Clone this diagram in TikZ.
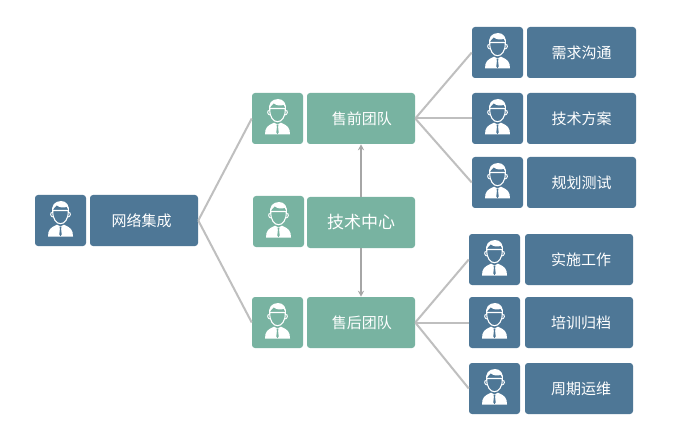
\documentclass[tikz,border=0pt]{standalone}
\usepackage{fontspec}
\setmainfont{Noto Sans CJK SC}
\usetikzlibrary{arrows.meta}
\definecolor{teamblue}{HTML}{4E7796}
\definecolor{teamgreen}{HTML}{78B3A1}
\definecolor{linkgrey}{HTML}{BFBFBF}
\definecolor{arrowgrey}{HTML}{A6A6A6}
% card caption with optional sideways nudge
\newcommand\captiontext[2][0pt]{\hspace*{#1}\raisebox{-1.4pt}{#2}}
\tikzset{
  card/.style={rounded corners=2.25pt,inner sep=0pt,text=white,font=\fontsize{11.25pt}{13pt}\selectfont},
  iconcard/.style={card,minimum width=38.25pt,minimum height=38.25pt},
  labelcard/.style={card,minimum width=81pt,minimum height=38.25pt},
  widecard/.style={labelcard,minimum width=81.75pt},
  blue/.style={fill=teamblue},
  green/.style={fill=teamgreen},
  link/.style={draw=linkgrey,line width=1.5pt},
  pointer/.style={draw=arrowgrey,line width=1.3pt,-{Stealth[length=4.5pt,width=4.5pt]}},
  pics/person/.style={code={
    % shoulders and shirt
    \fill[white] (-12.5,16) .. controls (-12.5,9) and (-10,7) .. (-3.5,4.2)
      -- (0,6) -- (3.5,4.2) .. controls (10,7) and (12.5,9) .. (12.5,16) -- cycle;
    % tie
    \fill[#1] (-1,6.2) -- (1,6.2) -- (0.6,8.5) -- (1.2,14) -- (0,15.6) -- (-1.2,14) -- (-0.6,8.5) -- cycle;
    % ears
    \draw[white,line width=0.7pt] (-8.2,-8) .. controls (-10.8,-8.5) and (-10.2,-3.5) .. (-7.4,-3.5);
    \draw[white,line width=0.7pt] (8.2,-8) .. controls (10.8,-8.5) and (10.2,-3.5) .. (7.4,-3.5);
    % face outline
    \draw[white,line width=0.8pt,fill=#1] (-7.8,-10) .. controls (-8,-1) and (-4,3.2) .. (0,3.2)
      .. controls (4,3.2) and (8,-1) .. (7.8,-10) -- cycle;
    % hair with a side-swept fringe
    \fill[white] (-8.2,-8) .. controls (-9.4,-15) and (-6,-19.3) .. (0.5,-19.5)
      .. controls (6,-19.5) and (9.4,-15) .. (8.2,-8)
      .. controls (7.8,-10.5) and (7.2,-12.5) .. (6.2,-13.6)
      .. controls (3,-12.4) and (-1.5,-13) .. (-3.8,-15.2)
      .. controls (-5.5,-14) and (-7.6,-11.5) .. (-8.2,-8) -- cycle;
  }},
}
\begin{document}
\begin{tikzpicture}[x=0.75pt,y=-0.75pt]
\useasboundingbox (0,0) rectangle (689,431);
\fill[white] (0,0) rectangle (689,431);

% root
\node[iconcard,blue] (rooticon) at (60.5,220.5) {};
\node[labelcard,blue] (root) at (144,220.5) {\captiontext[-3.75pt]{网络集成}};

% teams
\node[iconcard,green] (preicon) at (277.5,118.5) {};
\node[labelcard,green] (pre) at (361,118.5) {\captiontext[1.2pt]{售前团队}};
\node[iconcard,green] (techicon) at (278.5,221.5) {};
\node[labelcard,green,font=\fontsize{12.75pt}{15pt}\selectfont] (tech) at (361,222.5) {\captiontext{技术中心}};
\node[iconcard,green] (posticon) at (277.5,322.5) {};
\node[labelcard,green] (post) at (361,322.5) {\captiontext[1.2pt]{售后团队}};

% pre-sales tasks
\node[iconcard,blue] (aicon) at (497.5,52.5) {};
\node[widecard,blue] (a) at (581.5,52.5) {\captiontext{需求沟通}};
\node[iconcard,blue] (bicon) at (497.5,118.5) {};
\node[widecard,blue] (b) at (581.5,118.5) {\captiontext{技术方案}};
\node[iconcard,blue] (cicon) at (497.5,182.5) {};
\node[widecard,blue] (c) at (581.5,182.5) {\captiontext{规划测试}};

% after-sales tasks
\node[iconcard,blue] (dicon) at (494.5,259.5) {};
\node[labelcard,blue] (d) at (579,259.5) {\captiontext[3pt]{实施工作}};
\node[iconcard,blue] (eicon) at (494.5,322.5) {};
\node[labelcard,blue] (e) at (579,322.5) {\captiontext[3pt]{培训归档}};
\node[iconcard,blue] (ficon) at (494.5,388.5) {};
\node[labelcard,blue] (f) at (579,388.5) {\captiontext[3pt]{周期运维}};

% portraits
\foreach \n in {rooticon,aicon,bicon,cicon,dicon,eicon,ficon}
  \pic at (\n) {person=teamblue};
\foreach \n in {preicon,techicon,posticon}
  \pic at (\n) {person=teamgreen};

% hierarchy links
\draw[link] (root.east) -- (preicon.west);
\draw[link] (root.east) -- (posticon.west);
\foreach \t in {aicon,bicon,cicon}
  \draw[link] (pre.east) -- (\t.west);
\foreach \t in {dicon,eicon,ficon}
  \draw[link] (post.east) -- (\t.west);

% support arrows from the technical centre
\draw[pointer] (tech.north) -- (pre.south);
\draw[pointer] (tech.south) -- (post.north);
\end{tikzpicture}
\end{document}
